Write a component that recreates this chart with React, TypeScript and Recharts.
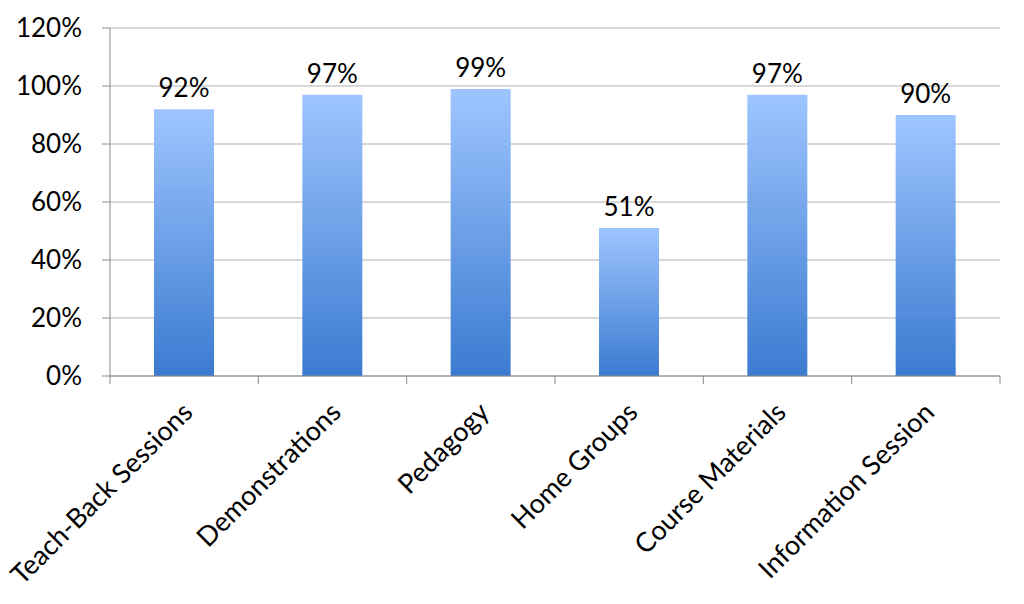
import { BarChart, Bar, XAxis, YAxis, CartesianGrid, LabelList } from 'recharts';

const categories = [
  'Teach-Back Sessions',
  'Demonstrations',
  'Pedagogy',
  'Home Groups',
  'Course Materials',
  'Information Session',
];
const shares = [92, 97, 99, 51, 97, 90];
const yTicks = [0, 20, 40, 60, 80, 100, 120];

const data = categories.map((name, i) => ({ name, value: shares[i] }));

const FONT = 'Lato, "Open Sans", sans-serif';

function CategoryTick(props: any) {
  const { x, y, payload, index, visibleTicksCount } = props;
  const half = payload.offset || 0;
  const last = index === visibleTicksCount - 1;
  const ax = x + 10;
  const ay = y + 30;
  return (
    <g>
      <line x1={x - half} x2={x - half} y1={y - 8} y2={y} stroke="#8a8a8a" />
      {last && <line x1={x + half} x2={x + half} y1={y - 8} y2={y} stroke="#8a8a8a" />}
      <text
        x={ax}
        y={ay}
        transform={`rotate(-45, ${ax}, ${ay})`}
        textAnchor="end"
        fontSize={27}
        fontFamily={FONT}
        fill="#000"
      >
        {payload.value}
      </text>
    </g>
  );
}

export default function App() {
  return (
    <div style={{ position: 'absolute', left: 0, top: 0, background: '#fff' }}>
      <BarChart
        width={1024}
        height={604}
        data={data}
        margin={{ top: 28, right: 24, left: 30, bottom: 0 }}
      >
        <defs>
          <linearGradient id="barFill" x1="0" y1="0" x2="0" y2="1">
            <stop offset="0%" stopColor="#9ec5ff" />
            <stop offset="100%" stopColor="#3b7bd0" />
          </linearGradient>
        </defs>
        <CartesianGrid vertical={false} stroke="#b0b0b0" />
        <XAxis
          dataKey="name"
          interval={0}
          height={228}
          axisLine={{ stroke: '#8a8a8a' }}
          tickLine={false}
          tick={<CategoryTick />}
        />
        <YAxis
          domain={[0, 120]}
          ticks={yTicks}
          width={80}
          tickFormatter={(v: number) => `${v}%`}
          axisLine={{ stroke: '#8a8a8a' }}
          tickLine={{ stroke: '#8a8a8a' }}
          tickSize={8}
          tickMargin={20}
          tick={{ fontSize: 26, fontFamily: FONT, fill: '#000' }}
        />
        <Bar dataKey="value" fill="url(#barFill)" barSize={60} isAnimationActive={false}>
          <LabelList
            dataKey="value"
            position="top"
            offset={12}
            formatter={(v: any) => `${v}%`}
            style={{ fontSize: 26, fontFamily: FONT, fill: '#000' }}
          />
        </Bar>
      </BarChart>
    </div>
  );
}
